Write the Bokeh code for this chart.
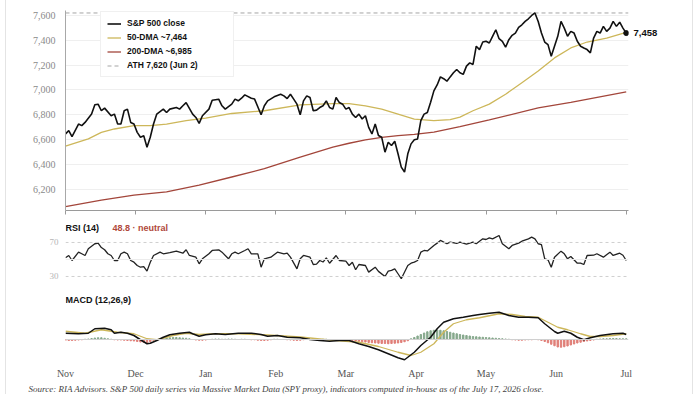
import numpy as np
from bokeh.plotting import figure
from bokeh.layouts import column
from bokeh.models import (Range1d, FixedTicker, NumeralTickFormatter, Legend, LegendItem,
                          Label, Title, Span, LinearAxis)
from bokeh.embed import file_html
from bokeh.resources import INLINE

# ---------------- data ----------------
months = ["Nov", "Dec", "Jan", "Feb", "Mar", "Apr", "May", "Jun", "Jul"]

close_day = [0, 1, 2, 4, 5, 6, 8, 9, 10, 11, 12, 14, 15, 16, 17, 18, 19, 20, 21, 22,
             23, 24, 25, 26, 27, 28, 30, 31, 32, 34, 35, 36, 37, 39, 40, 41, 42, 44, 45, 47,
             48, 49, 51, 52, 53, 54, 55, 57, 58, 60, 61, 62, 64, 66, 67, 68] + list(range(69, 173))
close = [6645, 6672, 6624, 6725, 6712, 6738, 6805, 6880, 6885, 6832,
         6853, 6792, 6805, 6725, 6725, 6832, 6845, 6738, 6725, 6658,
         6618, 6630, 6538, 6618, 6725, 6805, 6845, 6818, 6845, 6858,
         6845, 6872, 6898, 6805, 6778, 6730, 6792, 6845, 6917, 6925,
         6872, 6845, 6885, 6926, 6912, 6933, 6960, 6933, 6926, 6800,
         6872, 6912, 6944, 6965, 6952, 6930,
         6965, 6926, 6885, 6800, 6912, 6952, 6939, 6832, 6837, 6858,
         6872, 6912, 6858, 6845, 6939, 6898, 6885, 6845, 6858, 6805,
         6778, 6805, 6765, 6792, 6698, 6645, 6725, 6632, 6618, 6498,
         6578, 6552, 6586, 6485, 6378, 6338, 6485, 6565, 6598, 6605,
         6752, 6805, 6818, 6900, 6992,
         7040, 7105, 7090, 7070, 7105, 7138, 7165, 7138, 7125, 7192,
         7218, 7205, 7352, 7325, 7386, 7392, 7378, 7432, 7485, 7413,
         7392, 7344, 7405, 7440, 7458, 7504, 7525, 7552, 7573, 7600,
         7620, 7552, 7458, 7386, 7365, 7272, 7352, 7432, 7552, 7498,
         7432, 7472, 7458, 7392, 7352, 7338, 7325, 7298, 7418, 7472,
         7458, 7512, 7472, 7498, 7552, 7512, 7546, 7498, 7458]

dma50_day = [0, 7, 11, 15, 21, 26, 31, 37, 43, 51, 61, 72, 82, 87, 92, 97, 102, 107, 113, 118,
             121, 125, 130, 135, 140, 145, 150, 155, 160, 166, 172]
dma50 = [6546, 6605, 6658, 6685, 6712, 6712, 6725, 6752, 6773, 6810, 6832, 6880, 6890, 6890,
         6872, 6845, 6805, 6765, 6752, 6760, 6780, 6832, 6885, 6965, 7058, 7152, 7258, 7338,
         7386, 7418, 7464]

dma200_day = [0, 11, 21, 31, 41, 51, 61, 72, 82, 87, 92, 97, 102, 107, 113, 121, 130, 145, 155, 172]
dma200 = [6059, 6112, 6152, 6178, 6232, 6298, 6365, 6458, 6538, 6570, 6597, 6618, 6632, 6642,
          6660, 6704, 6758, 6855, 6900, 6985]

ath = 7620
ath_date = "Jun 2"

rsi_levels = [30, 50, 70]
rsi_day = [0, 1, 2, 4, 5, 6, 7, 9, 10, 11, 12, 13, 14, 15, 16, 17, 18, 19, 20, 21,
           22, 23, 24, 25, 26, 27, 29, 30, 32, 34, 36, 37, 38, 40, 41, 42, 44, 45, 47, 48,
           50, 51, 52, 53, 55, 56, 57, 59, 60, 61, 63, 65, 67, 68, 69, 71, 72, 73, 75, 76,
           77, 78, 79, 80, 81, 83, 84, 86, 87, 88, 89, 90, 92, 93, 95, 96, 98, 99, 100, 101,
           102, 103, 105, 106, 107, 108, 109, 110, 111, 113, 114, 115, 117, 118, 120, 121, 123, 125, 126, 128,
           129, 130, 131, 133, 134, 136, 137, 139, 140, 142, 143, 144, 145, 146, 147, 148, 149, 150, 152, 153,
           154, 155, 157, 158, 159, 160, 162, 163, 165, 167, 168, 170, 171, 172]
rsi = [52, 54.7, 48.8, 58.6, 56.7, 54.7, 62.6, 68.5, 69.2, 64,
       61.4, 56.7, 54.7, 48.8, 48.8, 56.7, 58.6, 56.7, 48.8, 46.8,
       42.9, 40.9, 41.5, 36.3, 46.8, 54.7, 58.6, 56.7, 58, 59.8,
       57.4, 61.4, 54.7, 52.7, 44.9, 50.8, 56.7, 60.6, 61.4, 58.6,
       50.8, 56.7, 58.6, 56.7, 60.6, 62.6, 56.7, 56.7, 40.9, 50.8,
       52.7, 58.6, 56.7, 57.4, 52.7, 39, 50.8, 54.7, 52.7, 44.1,
       44.5, 48.8, 47, 52, 45.6, 54.7, 48.8, 48, 42.9, 46.8,
       37.9, 44.1, 42.9, 35.1, 40.9, 36, 30, 36.3, 37.1, 39,
       33.2, 27.3, 42.9, 45.6, 46.8, 48.8, 58.6, 60.6, 60, 66.5,
       69.2, 72.4, 68.5, 70.4, 69, 70.4, 68, 70.4, 68.5, 74.3,
       73.5, 75.5, 74.3, 78.2, 68.5, 62.6, 66.5, 69.2, 71.5, 74.3,
       76.2, 74.3, 68.5, 67.5, 50.8, 49.6, 40.9, 52.7, 59.8, 56.7,
       50.8, 53.5, 45.6, 45.6, 44.1, 54.7, 55, 56.7, 52.7, 58.6,
       54.7, 57.4, 55, 48.8]
rsi_state = "neutral"

macd_day = [0, 4, 7, 9, 12, 14, 15, 17, 19, 21, 23, 25, 26, 28, 30, 32, 35, 38, 39, 41,
            43, 46, 49, 53, 57, 60, 62, 65, 68, 72, 75, 78, 81, 84, 87, 90, 93, 96, 99, 102,
            104, 105, 107, 109, 112, 114, 116, 119, 122, 125, 127, 130, 133, 136, 139, 142, 145, 147, 150, 151,
            153, 155, 157, 159, 161, 164, 168, 171, 172]
macd = [25, 23, 25, 43, 45, 39, 25, 29, 25, 16, -1, -17, -15, -4, 9, 19, 25, 29, 23, 13,
        19, 23, 20, 25, 25, 20, 13, 16, 9, 7, 0, -4, -7, -4, -4, -17, -28, -41, -57, -73,
        -81, -71, -51, -24, 9, 43, 69, 83, 89, 96, 100, 105, 109, 96, 89, 89, 87, 63, 32, 25,
        33, 25, 9, -1, 7, 16, 23, 25, 20]
signal_day = [0, 6, 11, 16, 21, 25, 28, 33, 37, 41, 46, 53, 62, 72, 81, 90, 96, 102, 106, 109,
              113, 116, 119, 123, 127, 133, 137, 141, 145, 148, 151, 154, 158, 161, 164, 168, 172]
signal = [33, 25, 39, 29, 23, 3, -1, 16, 25, 20, 23, 23, 18, 10, -2, -11, -28, -51, -64, -51,
          -17, 29, 63, 79, 87, 103, 100, 92, 89, 69, 49, 39, 23, 12, 12, 16, 23]
hist = [-3, -4, -4, -3, -2, -1, 1, 2, 4, 6, 7, 7, 5, 3, 1, -1, -2,
        -2, -3, -4, -5, -6, -8, -10, -12, -13, -9, -3, 0, 3,
        5, 6, 7, 8, 8, 7, 6, 5, 3, 0, -2, -3, -3, -2,
        0, 1, 2, 2, 1, 1, 2, 2, 1, 0, 1, 1, 0, -1, -1,
        -3, -4, -4, -3, -1, 1, 1, 0, 0, -1, -2, -3, -4, -3, -1,
        0, 1, 1, 0, 0, 1, 1, 0, -1, -1, 0, 0, -1,
        -3, -4, -6, -7, -9, -10, -12, -13, -14, -15, -16, -16, -17, -16, -15, -14, -12, -9, -5,
        3, 8, 14, 20, 26, 31, 35, 37, 38, 37, 35, 32, 29, 26, 23, 20, 18, 16, 14, 12, 11, 10, 9, 8, 7,
        6, 5, 4, 3, 2, 1, -1, -2, -3, -3, -2, -1, -1, 0, -1,
        -4, -8, -13, -19, -25, -30, -31, -29, -26, -22, -18, -14, -11, -8, -6, -4, -2,
        1, 2, 3, 3, 4, 4, 4, 3, 3, 3]
hist_day = list(range(len(hist)))

source_text = ("Source: RIA Advisors. S&P 500 daily series via Massive Market Data (SPY proxy), "
               "indicators computed in-house as of the July 17, 2026 close.")

# ---------------- styling ----------------
SANS = "Liberation Sans"
SERIF = "Liberation Serif"
BLACK = "#111111"
GOLD = "#cdb75a"
BROWN = "#a3463b"
RED_TXT = "#b0483b"

FW = 563
LEFT = 59
RIGHT = 64
PAD_END = 0.7  # small room so the end marker is not cut by the frame

x_rng = Range1d(close_day[0], close_day[-1] + PAD_END)
tick_pos = [float(t) for t in np.linspace(close_day[0], close_day[-1], len(months))]
tick_labels = {t: m for t, m in zip(tick_pos, months)}

# ---------------- main price panel ----------------
p1 = figure(frame_width=FW, frame_height=200, x_range=x_rng, y_range=Range1d(6028, 7640),
            min_border_left=LEFT, min_border_right=RIGHT, min_border_top=10, min_border_bottom=12,
            output_backend="svg", toolbar_location=None)
p1.outline_line_color = None
p1.xgrid.grid_line_color = None
p1.ygrid.grid_line_color = "#efefef"
p1.yaxis.ticker = FixedTicker(ticks=list(range(6200, 7601, 200)))
p1.yaxis.formatter = NumeralTickFormatter(format="0,0")
p1.yaxis.axis_line_color = "#a8a8a8"
p1.yaxis.major_tick_line_color = None
p1.yaxis.minor_tick_line_color = None
p1.yaxis.major_label_text_font = SERIF
p1.yaxis.major_label_text_font_size = "10px"
p1.yaxis.major_label_text_color = "#8a8a8a"
p1.yaxis.major_label_standoff = 4
p1.xaxis.ticker = FixedTicker(ticks=tick_pos)
p1.xaxis.axis_line_color = "#9a9a9a"
p1.xaxis.major_tick_line_color = "#9a9a9a"
p1.xaxis.major_tick_out = 4
p1.xaxis.major_tick_in = 0
p1.xaxis.minor_tick_line_color = None
p1.xaxis.major_label_text_font_size = "1px"
p1.xaxis.major_label_text_color = None
p1.xaxis.major_label_standoff = 0

# right-side value tag for the last close
tag_axis = LinearAxis(y_range_name="default", ticker=FixedTicker(ticks=[close[-1]]),
                      major_label_overrides={close[-1]: f"{close[-1]:,}"},
                      axis_line_color=None, major_tick_line_color=None, minor_tick_line_color=None,
                      major_tick_out=0, major_tick_in=0, major_label_standoff=5,
                      major_label_text_font=SANS, major_label_text_font_style="bold",
                      major_label_text_font_size="9.5px", major_label_text_color=BLACK)
p1.add_layout(tag_axis, "right")

r200 = p1.line(dma200_day, dma200, line_color=BROWN, line_width=1.3)
r50 = p1.line(dma50_day, dma50, line_color=GOLD, line_width=1.3)
rath = p1.line([close_day[0], close_day[-1] + PAD_END], [ath, ath], line_color="#a5a5a5",
               line_width=1, line_dash="4 3")
rclose = p1.line(close_day, close, line_color=BLACK, line_width=1.6)
p1.scatter([close_day[-1]], [close[-1]], size=5, color=BLACK)

legend = Legend(items=[
    LegendItem(label="S&P 500 close", renderers=[rclose]),
    LegendItem(label=f"50-DMA ~{dma50[-1]:,}", renderers=[r50]),
    LegendItem(label=f"200-DMA ~{dma200[-1]:,}", renderers=[r200]),
    LegendItem(label=f"ATH {ath:,} ({ath_date})", renderers=[rath]),
], location=(35, 133))
legend.label_text_font = SANS
legend.label_text_font_style = "bold"
legend.label_text_font_size = "8.5px"
legend.label_text_color = BLACK
legend.label_height = 9
legend.glyph_height = 9
legend.glyph_width = 14
legend.label_standoff = 6
legend.label_width = 100
legend.spacing = 4
legend.padding = 6
legend.margin = 0
legend.border_line_color = "#e2e2e2"
legend.border_line_width = 1
legend.background_fill_color = "white"
legend.background_fill_alpha = 1
p1.add_layout(legend, "center")

# ---------------- RSI panel ----------------
p2 = figure(frame_width=FW, frame_height=68, x_range=x_rng, y_range=Range1d(13.5, 93.5),
            min_border_left=LEFT, min_border_right=RIGHT, min_border_top=0, min_border_bottom=0,
            x_axis_location=None, output_backend="svg", toolbar_location=None)
p2.outline_line_color = None
p2.grid.grid_line_color = None
p2.yaxis.ticker = FixedTicker(ticks=[rsi_levels[0], rsi_levels[-1]])
p2.yaxis.axis_line_color = None
p2.yaxis.major_tick_line_color = None
p2.yaxis.minor_tick_line_color = None
p2.yaxis.major_tick_out = 0
p2.yaxis.major_tick_in = 0
p2.yaxis.major_label_text_font = SERIF
p2.yaxis.major_label_text_font_size = "9px"
p2.yaxis.major_label_text_color = "#b5b5b5"
p2.yaxis.major_label_standoff = 7
for lv in rsi_levels:
    if lv == 50:
        p2.add_layout(Span(location=lv, dimension="width", line_color="#ececec", line_width=1))
    else:
        p2.add_layout(Span(location=lv, dimension="width", line_color="#cfcfcf",
                           line_width=1, line_dash="3 3"))
p2.line(rsi_day, rsi, line_color="#222222", line_width=1.3)
p2.add_layout(Label(x=0, y=62.5, x_units="screen", y_units="screen", text="RSI (14)",
                    text_font=SANS, text_font_style="bold", text_font_size="9px",
                    text_baseline="middle", text_color=BLACK))
p2.add_layout(Label(x=47, y=62.5, x_units="screen", y_units="screen",
                    text=f"{rsi[-1]} \u00b7 {rsi_state}",
                    text_font=SANS, text_font_style="bold", text_font_size="9px",
                    text_baseline="middle", text_color=RED_TXT))

# ---------------- MACD panel ----------------
p3 = figure(frame_width=FW, frame_height=74, x_range=x_rng, y_range=Range1d(-100, 196),
            min_border_left=LEFT, min_border_right=RIGHT, min_border_top=0, min_border_bottom=30,
            y_axis_location=None, output_backend="svg", toolbar_location=None)
p3.outline_line_color = None
p3.grid.grid_line_color = None
p3.xaxis.ticker = FixedTicker(ticks=tick_pos)
p3.xaxis.major_label_overrides = tick_labels
p3.xaxis.axis_line_color = None
p3.xaxis.major_tick_line_color = None
p3.xaxis.minor_tick_line_color = None
p3.xaxis.major_tick_out = 0
p3.xaxis.major_tick_in = 0
p3.xaxis.major_label_text_font = SERIF
p3.xaxis.major_label_text_font_size = "10px"
p3.xaxis.major_label_text_color = "#555555"
p3.xaxis.major_label_standoff = 3
p3.add_layout(Span(location=0, dimension="width", line_color="#d0d0d0", line_width=1))
hist_colors = ["#86a88c" if h >= 0 else "#e07f78" for h in hist]
p3.vbar(x=hist_day, top=hist, bottom=0, width=0.42, color=hist_colors)
p3.line(signal_day, signal, line_color=GOLD, line_width=1.3)
p3.line(macd_day, macd, line_color=BLACK, line_width=1.5)
p3.add_layout(Label(x=0, y=64.5, x_units="screen", y_units="screen", text="MACD (12,26,9)",
                    text_font=SANS, text_font_style="bold", text_font_size="9px",
                    text_baseline="middle", text_color=BLACK))
p3.add_layout(Title(text=source_text, align="left", offset=-37, standoff=0,
                    text_font=SERIF, text_font_style="italic", text_font_size="9px",
                    text_color="#444444"), "below")

layout = column(p1, p2, p3, spacing=0, margin=(0, 0, 0, 5),
                styles={"border-left": "1px solid #e4e4e4", "border-right": "1px solid #e4e4e4"})

open("out.html", "w").write(file_html(layout, INLINE))
